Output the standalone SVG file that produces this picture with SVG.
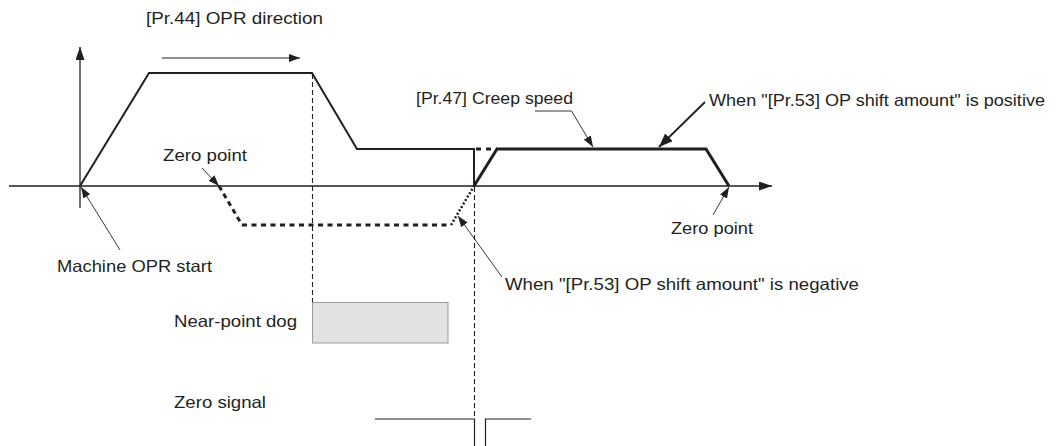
<svg xmlns="http://www.w3.org/2000/svg" width="1058" height="446" viewBox="0 0 1058 446">
  <style>
    text { font-family: "Liberation Sans", Arial, sans-serif; font-size: 16.5px; fill: #231f20; }
    .ln { stroke: #231f20; fill: none; }
    .axis { stroke-width: 1.3; }
    .prof { stroke-width: 2; stroke-linejoin: miter; }
    .thick { stroke-width: 3; }
    .guide { stroke-width: 1.1; stroke-dasharray: 5 3; }
    .lead { stroke-width: 0.9; }
  </style>
  <defs>
    <marker id="axArrow" markerUnits="userSpaceOnUse" markerWidth="14" markerHeight="9" refX="13" refY="4.5" orient="auto">
      <path d="M0,0 L13,4.5 L0,9 z" fill="#231f20"/>
    </marker>
    <marker id="ah" markerUnits="userSpaceOnUse" markerWidth="11" markerHeight="8" refX="11" refY="4" orient="auto">
      <path d="M0,0 L11,4 L0,8 z" fill="#231f20"/>
    </marker>
    <marker id="ahBig" markerUnits="userSpaceOnUse" markerWidth="14" markerHeight="11" refX="14" refY="5.5" orient="auto">
      <path d="M0,0 L14,5.5 L0,11 z" fill="#231f20"/>
    </marker>
  </defs>

  <g id="axes">
    <line class="ln axis" x1="9" y1="186" x2="772" y2="186" marker-end="url(#axArrow)"/>
    <line class="ln axis" x1="80" y1="208" x2="80" y2="47" marker-end="url(#axArrow)"/>
  </g>

  <g id="guides">
    <line class="ln guide" x1="312.5" y1="74" x2="312.5" y2="302"/>
    <line class="ln guide" x1="474.5" y1="187" x2="474.5" y2="419"/>
  </g>

  <g id="profile">
    <polyline class="ln prof" points="80,186 149,73 312,73 357,149 474,149 474,186"/>
    <polyline class="ln thick" points="474,186 497,149 706,149 729,186"/>
    <line class="ln thick" x1="476" y1="149" x2="497" y2="149" stroke-dasharray="5 5"/>
    <line class="ln thick" x1="219" y1="186" x2="242" y2="225" stroke-dasharray="5 4"/>
    <line class="ln thick" x1="242" y1="225" x2="451" y2="225" stroke-dasharray="5 4.5"/>
    <line class="ln" stroke-width="2.5" x1="451" y1="225" x2="474" y2="186" stroke-dasharray="2 2"/>
  </g>

  <g id="near-point-dog-signal">
    <rect x="312.5" y="302.5" width="135.5" height="40.5" fill="#e1e2e4" stroke="#9a9a9a" stroke-width="1"/>
  </g>

  <g id="zero-signal">
    <polyline class="ln" stroke-width="1.2" points="375,419 474.5,419 474.5,446"/>
    <polyline class="ln" stroke-width="1.2" points="485.5,446 485.5,419 531,419"/>
  </g>

  <g id="connectors">
    <line class="ln" stroke-width="1.2" x1="162" y1="58" x2="300" y2="58" marker-end="url(#ah)"/>
    <polyline class="ln lead" points="535,111 571.5,111 593,147" marker-end="url(#ah)"/>
    <line class="ln" stroke-width="1.8" x1="705" y1="102" x2="659" y2="147" marker-end="url(#ahBig)"/>
    <line class="ln lead" x1="713" y1="215" x2="729" y2="187" marker-end="url(#ah)"/>
    <line class="ln lead" x1="202" y1="168" x2="219" y2="186" marker-end="url(#ah)"/>
    <line class="ln lead" x1="120" y1="250" x2="81" y2="187" marker-end="url(#ah)"/>
    <line class="ln lead" x1="502" y1="277" x2="458" y2="216" marker-end="url(#ah)"/>
  </g>

  <g id="label-opr-direction"><text x="146" y="24" textLength="177" lengthAdjust="spacingAndGlyphs">[Pr.44] OPR direction</text></g>
  <g id="label-creep-speed"><text x="416" y="104" textLength="157" lengthAdjust="spacingAndGlyphs">[Pr.47] Creep speed</text></g>
  <g id="label-positive"><text x="709" y="106" textLength="336" lengthAdjust="spacingAndGlyphs">When "[Pr.53] OP shift amount" is positive</text></g>
  <g id="label-zero-point-left"><text x="163" y="161" textLength="84" lengthAdjust="spacingAndGlyphs">Zero point</text></g>
  <g id="label-zero-point-right"><text x="671" y="234" textLength="82" lengthAdjust="spacingAndGlyphs">Zero point</text></g>
  <g id="label-machine-opr-start"><text x="57" y="272" textLength="155" lengthAdjust="spacingAndGlyphs">Machine OPR start</text></g>
  <g id="label-negative"><text x="505" y="290" textLength="354" lengthAdjust="spacingAndGlyphs">When "[Pr.53] OP shift amount" is negative</text></g>
  <g id="label-near-point-dog"><text x="174" y="327" textLength="123" lengthAdjust="spacingAndGlyphs">Near-point dog</text></g>
  <g id="label-zero-signal"><text x="174" y="408" textLength="92" lengthAdjust="spacingAndGlyphs">Zero signal</text></g>
</svg>
